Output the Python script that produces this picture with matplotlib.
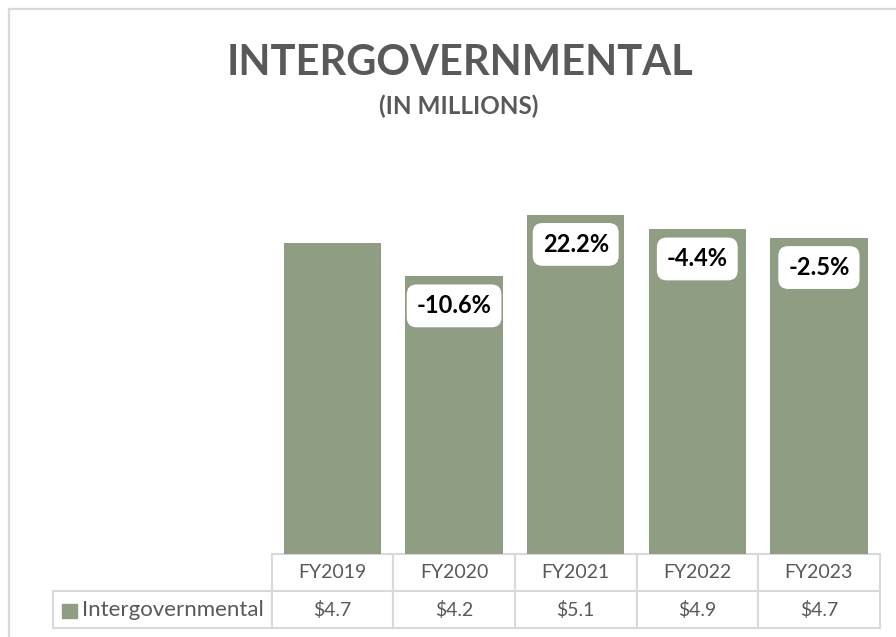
import matplotlib.pyplot as plt
from matplotlib.patches import Rectangle
from matplotlib.table import Table

plt.rcParams["font.family"] = ["Lato", "DejaVu Sans"]

# data
fiscal_years = ["FY2019", "FY2020", "FY2021", "FY2022", "FY2023"]
revenue_m = [4.70, 4.20, 5.13, 4.91, 4.78]
value_labels = ["$4.7", "$4.2", "$5.1", "$4.9", "$4.7"]
change_labels = ["", "-10.6%", "22.2%", "-4.4%", "-2.5%"]
series_name = "Intergovernmental"

BAR_COLOR = "#8F9D82"
TEXT_GRAY = "#595959"
GRID_GRAY = "#D9D9D9"

W, H = 896, 637
fig = plt.figure(figsize=(W / 100, H / 100), dpi=100)

# outer chart border (only top/left visible in the reference)
fig.add_artist(Rectangle((8.5 / W, -0.1), 1.2, 1.1 - 9.0 / H,
                         transform=fig.transFigure, fill=False,
                         edgecolor=GRID_GRAY, linewidth=1.6))

fig.text(460 / W, 1 - 75 / H, "INTERGOVERNMENTAL", ha="center", va="baseline",
         fontsize=30, fontweight="bold", color=TEXT_GRAY)
fig.text(459 / W, 1 - 114 / H, "(IN MILLIONS)", ha="center", va="baseline",
         fontsize=17.5, fontweight="bold", color=TEXT_GRAY)

ax_left, ax_right, ax_bottom, ax_top = 271.7, 879.7, 554, 150
ax = fig.add_axes([ax_left / W, 1 - ax_bottom / H,
                   (ax_right - ax_left) / W, (ax_bottom - ax_top) / H])
px_per_unit = 66.1
ax.set_xlim(-0.5, len(fiscal_years) - 0.5)
ax.set_ylim(0, (ax_bottom - ax_top) / px_per_unit)
ax.axis("off")

x = range(len(fiscal_years))
ax.bar(x, revenue_m, width=0.8, color=BAR_COLOR, zorder=2)

for i, (v, lab) in enumerate(zip(revenue_m, change_labels)):
    if not lab:
        continue
    ax.annotate(lab, xy=(i, v), xytext=(0, -18), textcoords="offset pixels",
                ha="center", va="top", fontsize=17, fontweight="bold", color="black",
                bbox=dict(boxstyle="round,pad=0.42,rounding_size=0.42",
                          fc="white", ec="none"), zorder=3)

# data table under the bars (grid part fills the bbox, row label hangs left)
table_h = 74 / (ax_bottom - ax_top)
label_px = ax_left - 53
label_w = label_px / (ax_right - ax_left)
col_w = 1 / len(fiscal_years)
tbl = Table(ax, bbox=[0, -table_h, 1, table_h])
for j, (fy, val) in enumerate(zip(fiscal_years, value_labels)):
    tbl.add_cell(0, j, col_w, 0.5, text=fy, loc="center")
    tbl.add_cell(1, j, col_w, 0.5, text=val, loc="center")
lab_cell = tbl.add_cell(1, -1, label_w, 0.5, text=series_name, loc="left")
lab_cell.PAD = 29 / label_px
tbl.auto_set_font_size(False)
tbl.set_fontsize(14)
for cell in tbl.get_celld().values():
    cell.set_edgecolor(GRID_GRAY)
    cell.set_linewidth(1.5)
    cell.get_text().set_color(TEXT_GRAY)
lab_cell.get_text().set_fontsize(16)
ax.add_table(tbl)

ax.add_patch(Rectangle(((62 - ax_left) / (ax_right - ax_left), (ax_bottom - 618) / (ax_bottom - ax_top)),
                       15 / (ax_right - ax_left), 14 / (ax_bottom - ax_top),
                       transform=ax.transAxes, color=BAR_COLOR, clip_on=False))

fig.savefig("out.png", dpi=100)
